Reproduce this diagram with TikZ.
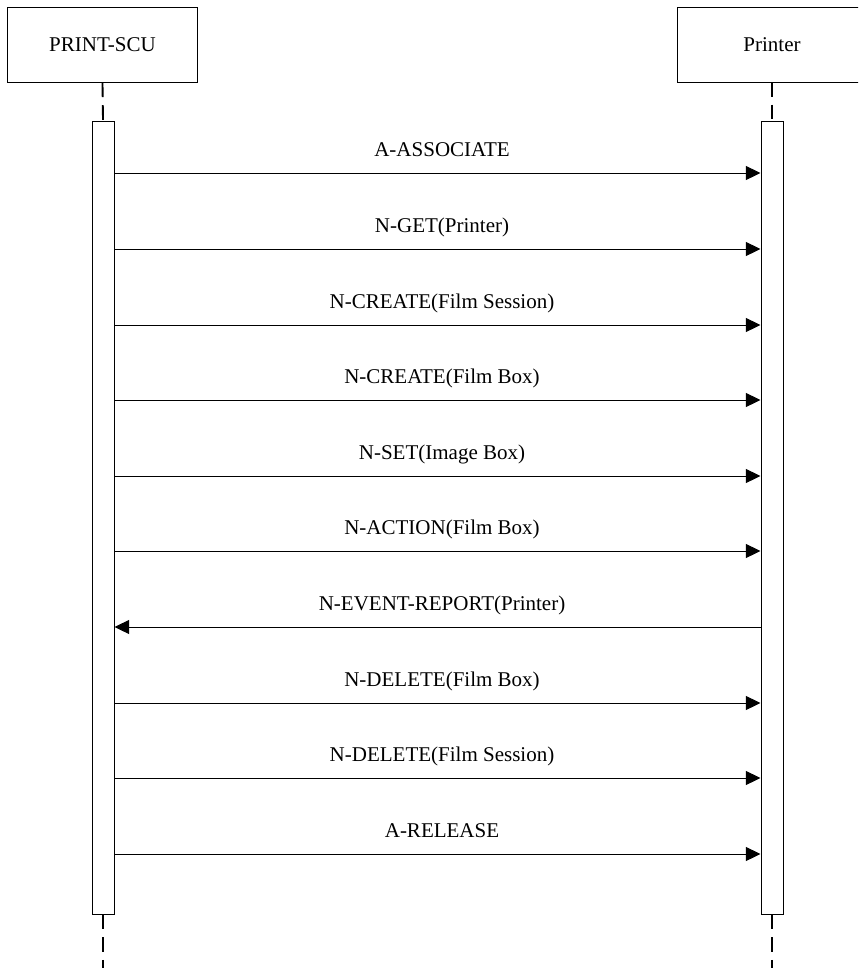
\documentclass[tikz,border=0pt]{standalone}
\usepackage{fontspec}
\setmainfont{Liberation Serif}
\usetikzlibrary{arrows.meta}
\begin{document}
\begin{tikzpicture}[x=0.75pt,y=-0.75pt,
  font=\fontsize{15.75pt}{18pt}\selectfont,
  actor/.style={draw=black,line width=0.75pt,fill=white,minimum width=150pt,minimum height=56.25pt,inner sep=0pt},
  actorL/.style={actor,minimum width=142.5pt},
  actbar/.style={draw=black,line width=0.75pt,fill=white,minimum width=16.5pt,minimum height=594.75pt,inner sep=0pt},
  lifeline/.style={draw=black,line width=1.4pt,dash pattern=on 11pt off 6pt},
  msg/.style={draw=black,line width=0.75pt,-{Triangle[length=11pt,width=10.5pt]}},
  lbl/.style={anchor=base,inner sep=0pt}]
\useasboundingbox (0,0) rectangle (858,968);
\clip (0,0) rectangle (858,968);
\fill[white] (0,0) rectangle (858,968);
% actors
\node[actorL] (scu) at (102.5,44.5) {PRINT-SCU};
\node[actor,anchor=west] (prn) at (677,44.5) {};
\node at (772,44.5) (prnlbl) {Printer};
% activation bars (positions only; drawn after lifelines)
\path (103,517.5) node[actbar,draw=none,fill=none] (barL) {};
\path (772,517.5) node[actbar,draw=none,fill=none] (barR) {};
\coordinate (endL) at (103,975);
\coordinate (endR) at (772,975);
\coordinate (topR) at (772,82);
% lifelines
\draw[lifeline] (scu.south) -- (barL.north);
\draw[lifeline] (barL.south) -- (endL);
\draw[lifeline] (topR) -- (barR.north);
\draw[lifeline] (barR.south) -- (endR);
\node[actbar] at (barL) {};
\node[actbar] at (barR) {};
% message rows
\coordinate (y1) at (0,173);
\coordinate (y2) at (0,249);
\coordinate (y3) at (0,325);
\coordinate (y4) at (0,400);
\coordinate (y5) at (0,476);
\coordinate (y6) at (0,551);
\coordinate (y7) at (0,627);
\coordinate (y8) at (0,703);
\coordinate (y9) at (0,778);
\coordinate (y10) at (0,854);
\draw[msg] (barL.east |- y1) -- (barR.west |- y1);
\draw[msg] (barL.east |- y2) -- (barR.west |- y2);
\draw[msg] (barL.east |- y3) -- (barR.west |- y3);
\draw[msg] (barL.east |- y4) -- (barR.west |- y4);
\draw[msg] (barL.east |- y5) -- (barR.west |- y5);
\draw[msg] (barL.east |- y6) -- (barR.west |- y6);
\draw[msg] (barR.west |- y7) -- (barL.east |- y7);
\draw[msg] (barL.east |- y8) -- (barR.west |- y8);
\draw[msg] (barL.east |- y9) -- (barR.west |- y9);
\draw[msg] (barL.east |- y10) -- (barR.west |- y10);
% labels
\node[lbl] (l1) at (442,156) {A-ASSOCIATE};
\node[lbl] (l2) at (442,232) {N-GET(Printer)};
\node[lbl] (l3) at (442,308) {N-CREATE(Film Session)};
\node[lbl] (l4) at (442,383) {N-CREATE(Film Box)};
\node[lbl] (l5) at (442,459) {N-SET(Image Box)};
\node[lbl] (l6) at (442,534) {N-ACTION(Film Box)};
\node[lbl] (l7) at (442,610) {N-EVENT-REPORT(Printer)};
\node[lbl] (l8) at (442,686) {N-DELETE(Film Box)};
\node[lbl] (l9) at (442,761) {N-DELETE(Film Session)};
\node[lbl] (l10) at (442,837) {A-RELEASE};
\end{tikzpicture}
\end{document}
